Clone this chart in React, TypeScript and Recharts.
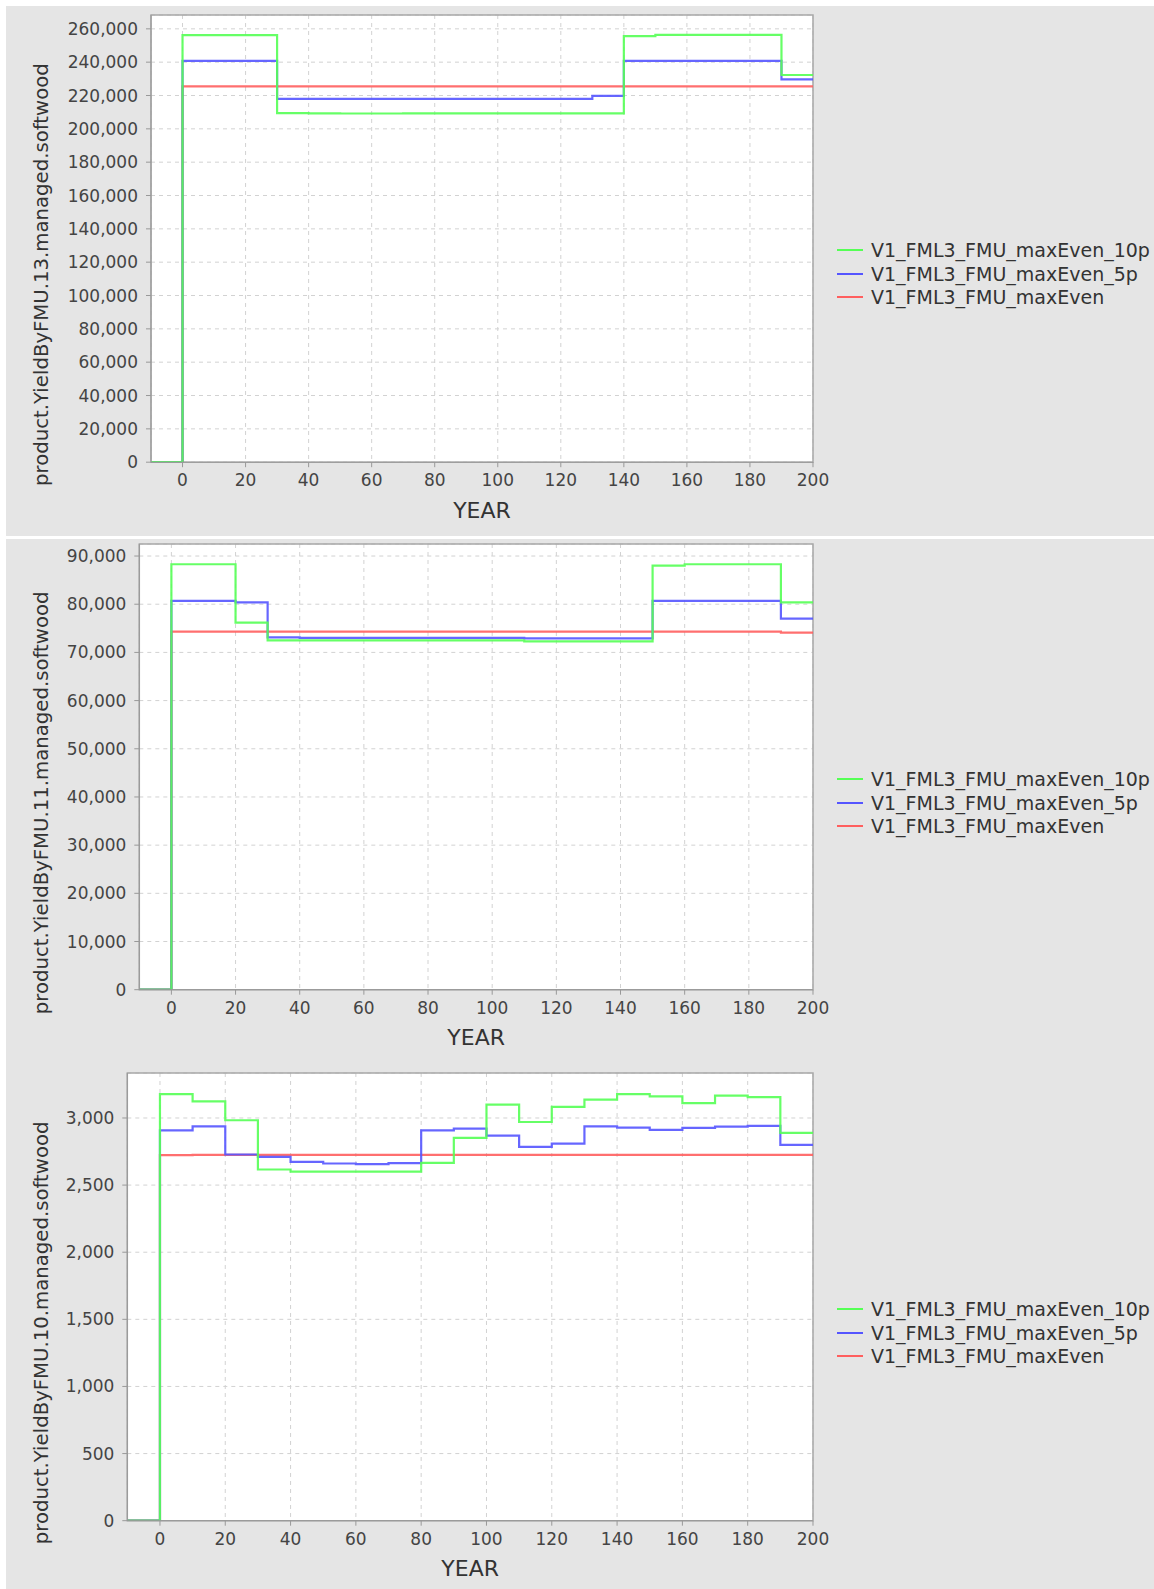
import React from 'react'
import { LineChart, Line, XAxis, YAxis, CartesianGrid, ReferenceArea, Label } from 'recharts'

const FONT = '"DejaVu Sans", Verdana, sans-serif'

const YEARS = [-10, 0, 10, 20, 30, 40, 50, 60, 70, 80, 90, 100, 110, 120, 130, 140, 150, 160, 170, 180, 190, 200]
const X_TICKS = [0, 20, 40, 60, 80, 100, 120, 140, 160, 180, 200]

const NAMES = ['V1_FML3_FMU_maxEven_10p', 'V1_FML3_FMU_maxEven_5p', 'V1_FML3_FMU_maxEven']
const COLORS = ['#55ff55', '#5555ff', '#ff5f5f']

// FMU.13
const FMU13_10P = [0, 256200, 256200, 256200, 209400, 209300, 209200, 209200, 209300, 209300, 209300, 209300, 209300, 209300, 209300, 255600, 256400, 256400, 256400, 256400, 232300, 232300]
const FMU13_5P = [0, 240800, 240800, 240800, 218000, 218000, 218000, 218000, 218000, 218000, 218000, 218000, 218000, 218000, 219800, 240800, 240800, 240800, 240800, 240800, 229700, 229700]
const FMU13_EVEN = [0, 225500, 225500, 225500, 225500, 225500, 225500, 225500, 225500, 225500, 225500, 225500, 225500, 225500, 225500, 225500, 225500, 225500, 225500, 225500, 225500, 225500]
const FMU13_TICKS = [0, 20000, 40000, 60000, 80000, 100000, 120000, 140000, 160000, 180000, 200000, 220000, 240000, 260000]

// FMU.11
const FMU11_10P = [0, 88300, 88300, 76200, 72500, 72500, 72500, 72500, 72500, 72500, 72500, 72500, 72300, 72300, 72300, 72300, 88000, 88300, 88300, 88300, 80400, 80400]
const FMU11_5P = [0, 80700, 80700, 80400, 73100, 73000, 73000, 73000, 73000, 73000, 73000, 73000, 72900, 72900, 72900, 72900, 80700, 80700, 80700, 80700, 77000, 77000]
const FMU11_EVEN = [0, 74300, 74300, 74300, 74300, 74300, 74300, 74300, 74300, 74300, 74300, 74300, 74300, 74300, 74300, 74300, 74300, 74300, 74300, 74300, 74100, 74100]
const FMU11_TICKS = [0, 10000, 20000, 30000, 40000, 50000, 60000, 70000, 80000, 90000]

// FMU.10
const FMU10_10P = [0, 3178, 3124, 2983, 2616, 2601, 2601, 2601, 2601, 2666, 2851, 3099, 2970, 3082, 3136, 3178, 3161, 3111, 3166, 3156, 2889, 2889]
const FMU10_5P = [0, 2908, 2938, 2728, 2710, 2673, 2661, 2656, 2663, 2908, 2921, 2869, 2785, 2809, 2938, 2928, 2911, 2926, 2936, 2941, 2800, 2800]
const FMU10_EVEN = [0, 2723, 2725, 2725, 2725, 2725, 2725, 2725, 2725, 2725, 2725, 2725, 2725, 2725, 2725, 2725, 2725, 2725, 2725, 2725, 2725, 2725]
const FMU10_TICKS = [0, 500, 1000, 1500, 2000, 2500, 3000]

const CHART_W = 830
const PLOT_RIGHT = 813
const PAD_TOP = 10
const AXIS_H = 70
const PAD_BOTTOM = 10

interface PanelProps {
  label: string
  plotLeft: number
  plotTop: number
  plotBottom: number
  yMax: number
  yTicks: number[]
  series: number[][]
}

function Panel({ label, plotLeft, plotTop, plotBottom, yMax, yTicks, series }: PanelProps) {
  const plotH = plotBottom - plotTop
  const svgTop = plotTop - PAD_TOP
  const height = plotH + PAD_TOP + AXIS_H + PAD_BOTTOM
  const data = YEARS.map((year, i) => ({ year, p10: series[0][i], p5: series[1][i], even: series[2][i] }))
  const labelY = PAD_TOP + plotH / 2 + 36
  const legendMid = plotTop + plotH / 2 + 35.5

  return (
    <>
      <div style={{ position: 'absolute', left: 0, top: svgTop }}>
        <LineChart
          width={CHART_W}
          height={height}
          data={data}
          margin={{ top: PAD_TOP, right: CHART_W - PLOT_RIGHT, bottom: PAD_BOTTOM, left: 0 }}
        >
          <CartesianGrid stroke="#d2d2d2" strokeDasharray="4 4" fill="#ffffff" />
          <XAxis
            dataKey="year"
            type="number"
            domain={[-10, 200]}
            ticks={X_TICKS}
            interval={0}
            allowDataOverflow
            height={AXIS_H}
            tickSize={5}
            tickMargin={7}
            stroke="#999"
            tick={{ fill: '#444', fontSize: 17, fontFamily: FONT }}
          >
            <Label
              content={() => (
                <text
                  x={plotLeft + (PLOT_RIGHT - plotLeft) / 2}
                  y={PAD_TOP + plotH + 48}
                  textAnchor="middle"
                  dominantBaseline="central"
                  fontSize={22}
                  fontFamily={FONT}
                  fill="#333"
                >
                  YEAR
                </text>
              )}
            />
          </XAxis>
          <YAxis
            type="number"
            domain={[0, yMax]}
            ticks={yTicks}
            interval={0}
            allowDataOverflow
            width={plotLeft}
            tickSize={5}
            tickMargin={8}
            stroke="#999"
            tick={{ fill: '#444', fontSize: 17, fontFamily: FONT }}
            tickFormatter={(v: number) => v.toLocaleString('en-US')}
          >
            <Label
              content={() => (
                <text
                  x={41.5}
                  y={labelY}
                  transform={`rotate(-90, 41.5, ${labelY})`}
                  textAnchor="middle"
                  dominantBaseline="central"
                  fontSize={19.7}
                  fontFamily={FONT}
                  fill="#333"
                >
                  {label}
                </text>
              )}
            />
          </YAxis>
          <ReferenceArea x1={-10} x2={200} y1={0} y2={yMax} fill="none" fillOpacity={0} stroke="#a8a8a8" strokeWidth={1.5} ifOverflow="visible" />
          <Line type="stepAfter" dataKey="even" stroke={COLORS[2]} strokeWidth={2.2} strokeOpacity={0.9} dot={false} activeDot={false} isAnimationActive={false} />
          <Line type="stepAfter" dataKey="p5" stroke={COLORS[1]} strokeWidth={2.2} strokeOpacity={0.9} dot={false} activeDot={false} isAnimationActive={false} />
          <Line type="stepAfter" dataKey="p10" stroke={COLORS[0]} strokeWidth={2.2} strokeOpacity={0.9} dot={false} activeDot={false} isAnimationActive={false} />
        </LineChart>
      </div>
      {/* legend */}
      <div style={{ position: 'absolute', left: 837, top: legendMid - 23.3 * 1.5 }}>
        {NAMES.map((name, i) => (
          <div key={name} style={{ display: 'flex', alignItems: 'center', height: 23.3 }}>
            <div style={{ width: 26, height: 2, background: COLORS[i] }} />
            <span style={{ marginLeft: 8, fontSize: 19, fontFamily: FONT, color: '#333', whiteSpace: 'nowrap' }}>{name}</span>
          </div>
        ))}
      </div>
    </>
  )
}

export default function App() {
  return (
    <div style={{ position: 'absolute', left: 0, top: 0, width: 1154, height: 1589, background: '#fff', overflow: 'hidden', fontFamily: FONT }}>
      <div style={{ position: 'absolute', left: 6, top: 6, width: 1148, height: 530, background: '#e5e5e5' }} />
      <div style={{ position: 'absolute', left: 6, top: 539, width: 1148, height: 1050, background: '#e5e5e5' }} />
      <Panel
        label="product.YieldByFMU.13.managed.softwood"
        plotLeft={151}
        plotTop={14.5}
        plotBottom={461.7}
        yMax={268300}
        yTicks={FMU13_TICKS}
        series={[FMU13_10P, FMU13_5P, FMU13_EVEN]}
      />
      <Panel
        label="product.YieldByFMU.11.managed.softwood"
        plotLeft={139.3}
        plotTop={544.3}
        plotBottom={990}
        yMax={92500}
        yTicks={FMU11_TICKS}
        series={[FMU11_10P, FMU11_5P, FMU11_EVEN]}
      />
      <Panel
        label="product.YieldByFMU.10.managed.softwood"
        plotLeft={127.3}
        plotTop={1073.3}
        plotBottom={1521}
        yMax={3335}
        yTicks={FMU10_TICKS}
        series={[FMU10_10P, FMU10_5P, FMU10_EVEN]}
      />
    </div>
  )
}
